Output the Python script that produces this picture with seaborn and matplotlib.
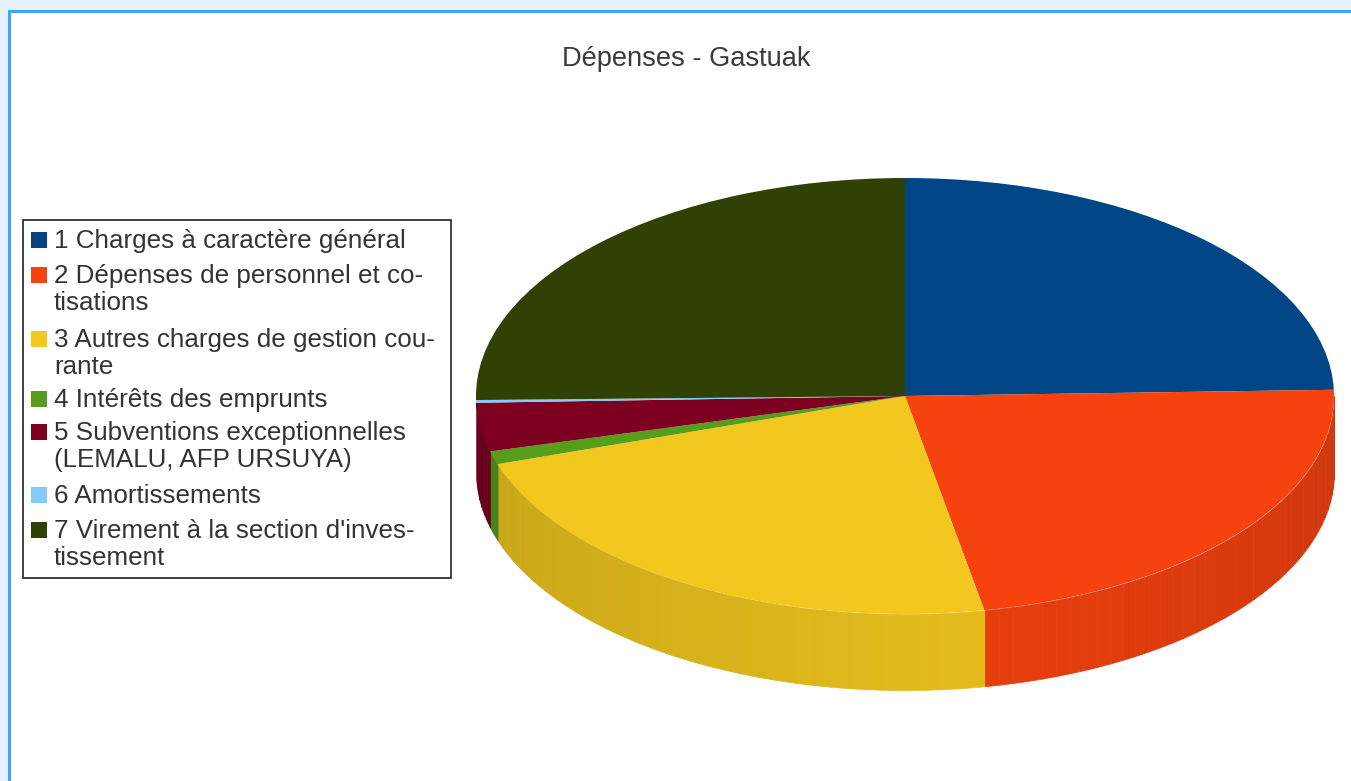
import numpy as np
import matplotlib
matplotlib.use('Agg')
import matplotlib.pyplot as plt
from matplotlib.patches import Rectangle
import seaborn as sns

# data, in percent
labels = ['1 Charges à caractère général',
          '2 Dépenses de personnel et co-\ntisations',
          '3 Autres charges de gestion cou-\nrante',
          '4 Intérêts des emprunts',
          '5 Subventions exceptionnelles\n(LEMALU, AFP URSUYA)',
          '6 Amortissements',
          "7 Virement à la section d'inves-\ntissement"]
values = [24.55, 22.5, 22.9, 0.97, 3.6, 0.2, 25.3]
colors = ['#004586', '#f5420f', '#f2c81e', '#579d1c', '#7e0021', '#83caff', '#314004']
legend_rows = [240, 275, 339, 399, 432, 495, 530]  # pixel height of first line

W, H = 1351, 781
sns.set_theme(style='white')
plt.rcParams['font.family'] = ['Liberation Sans', 'DejaVu Sans']

fig = plt.figure(figsize=(W / 100, H / 100), dpi=100, facecolor='white')

# page background, border and legend are drawn in pixel coordinates
bg = fig.add_axes([0, 0, 1, 1], zorder=3)
bg.set_xlim(0, W)
bg.set_ylim(H, 0)
bg.axis('off')
bg.patch.set_alpha(0)
bg.add_patch(Rectangle((0, 0), W, 10, color='#e3f2fd', lw=0))
bg.add_patch(Rectangle((0, 0), 8, H, color='#e3f2fd', lw=0))
bg.add_patch(Rectangle((8, 10), W, 3, color='#42a5f5', lw=0))
bg.add_patch(Rectangle((8, 10), 3, H, color='#42a5f5', lw=0))

bg.text(686, 59, 'Dépenses - Gastuak', ha='center', va='center', fontsize=19.6, color='#3a3a3a')

bg.add_patch(Rectangle((23, 220), 428, 358, facecolor='white', edgecolor='#222222', lw=1.2))
for lab, y, c in zip(labels, legend_rows, colors):
    bg.add_patch(Rectangle((31, y - 8), 16, 16, color=c, lw=0))
    for i, line in enumerate(lab.split('\n')):
        bg.text(54, y + 8 + 27 * i, line, ha='left', va='baseline', fontsize=18.7, color='#333333')

# pie axes: ellipse centre (905, 396), radii 429 and 218 pixels
rx, ry = 429, 218
depth = 76 / ry
x0, x1, y0, y1 = -1.1, 1.1, -1.5, 1.1
ax = fig.add_axes([(905 + x0 * rx) / W, (H - 396 + y0 * ry) / H,
                   (x1 - x0) * rx / W, (y1 - y0) * ry / H], zorder=2)

# side wall, built from the slice angles (clockwise from the top)
edges = np.concatenate([[0], np.cumsum(values)]) / sum(values) * 360
palette = sns.color_palette(colors)
step = 2.0
for k, c in enumerate(palette[:5]):  # slices 6 and 7 have no visible wall
    a0, a1 = max(edges[k], 90), min(edges[k + 1], 270)
    if a1 <= a0:
        continue
    n = max(int(np.ceil((a1 - a0) / step)), 1)
    bounds = np.linspace(a0, a1, n + 1)
    for s, e in zip(bounds[:-1], bounds[1:]):
        th = np.radians(np.linspace(s, e, 6))
        xs = np.sin(th)
        ys = np.cos(th)
        shade = 0.94 - 0.11 * abs((s + e) / 2 - 170) / 85
        col = tuple(np.array(c) * shade)
        ax.fill_between(xs, ys - depth, ys, color=col, lw=0.5)

wedges, _ = ax.pie(values, colors=colors, startangle=90, counterclock=False,
                   radius=1, wedgeprops={'linewidth': 0})
ax.set_aspect('auto')
ax.set_xlim(x0, x1)
ax.set_ylim(y0, y1)
ax.axis('off')

fig.savefig('out.png', dpi=100)
